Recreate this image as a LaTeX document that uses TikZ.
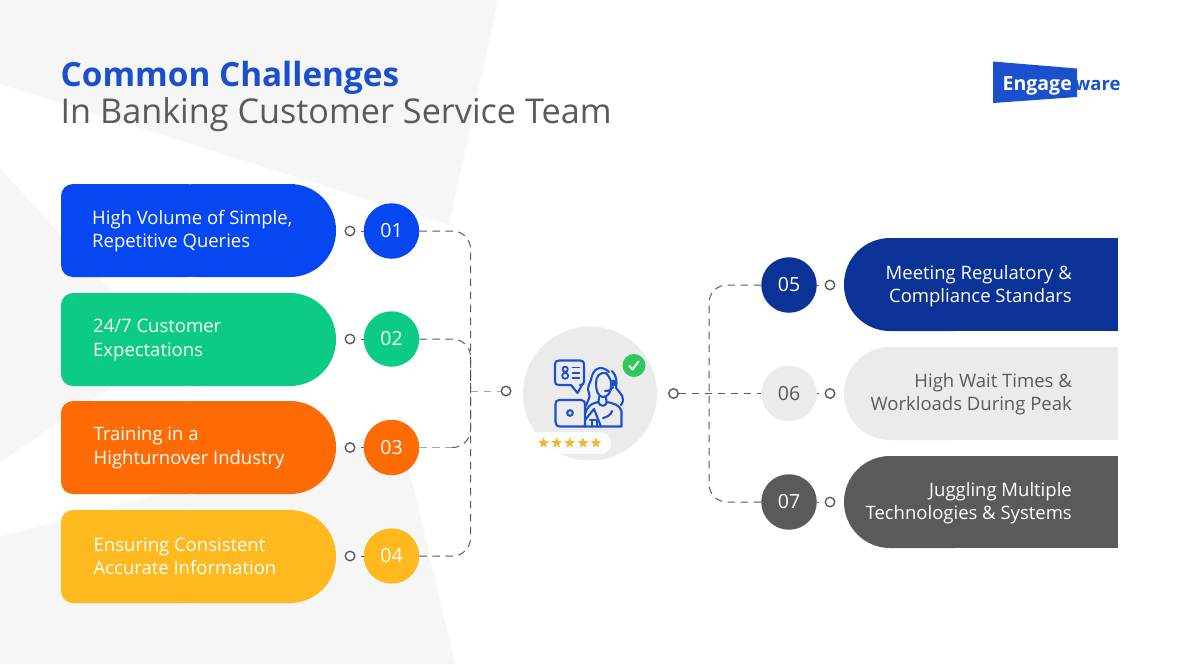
\documentclass[tikz,border=0pt]{standalone}
\usepackage{fontspec}
\setmainfont{Open Sans}
\usetikzlibrary{shapes.geometric}
\definecolor{bgshape}{HTML}{F6F6F7}
\definecolor{inkgrey}{HTML}{5A5A5A}
\definecolor{iconblue}{HTML}{1A50CE}
\definecolor{cblue}{HTML}{0647F2}
\definecolor{cgreen}{HTML}{0CCB84}
\definecolor{corange}{HTML}{FE6A04}
\definecolor{cyellow}{HTML}{FDB91E}
\definecolor{cnavy}{HTML}{0B3297}
\definecolor{clight}{HTML}{EBEBEC}
\definecolor{cdark}{HTML}{5A5A5A}
\definecolor{cstar}{HTML}{F5B731}
\definecolor{cbadge}{HTML}{2FC85C}
\tikzset{
  numdot/.style={circle,inner sep=0pt,minimum size=55.5pt,text=white,font=\fontsize{19.5}{22}\selectfont},
  portdot/.style={circle,draw=inkgrey,line width=1.4pt,fill=white,inner sep=0pt,minimum size=9.5pt},
  boxtext/.style={inner sep=0pt,font=\fontsize{18.5}{23.2}\selectfont,text=white},
  dashline/.style={draw=inkgrey,line width=1pt,dash pattern=on 7.5pt off 5.5pt},
  solidlink/.style={draw=inkgrey,line width=1pt,shorten <=6pt},
  iconline/.style={draw=iconblue,line width=2.1pt,line cap=round,line join=round},
  starmark/.style={star,star points=5,star point ratio=2.3,fill=cstar,inner sep=0pt,minimum size=11pt}
}
\newcommand{\leftbox}[3]{%
  \fill[#1,rounded corners=12pt] (61,#2) rectangle (200,#3);
  \fill[#1,rounded corners=46pt] (150,#2) rectangle (336,#3);}
\newcommand{\rightbox}[3]{%
  \fill[#1,rounded corners=46pt] (844,#2) rectangle (1000,#3);
  \fill[#1] (900,#2) rectangle (1118,#3);}
\begin{document}
\begin{tikzpicture}[x=1pt,y=-1pt]
\useasboundingbox (0,0) rectangle (1180,664);
\fill[white] (0,0) rectangle (1180,664);
% background shards
\fill[bgshape] (0,0) -- (498,0) -- (449,225) -- (0,84) -- cycle;
\fill[bgshape] (0,168) -- (166,351) -- (0,462) -- cycle;
\fill[bgshape] (0,537) -- (400,430) -- (455,664) -- (0,664) -- cycle;
% title
\node[anchor=base west,inner sep=0pt,text=iconblue,font=\fontsize{33.3}{40}\selectfont\bfseries] (title) at (60.5,86) {Common Challenges};
\node[anchor=base west,inner sep=0pt,text=inkgrey,font=\fontsize{34.2}{40}\selectfont] (subtitle) at (60.5,123.5) {In Banking Customer Service Team};
% logo
\fill[iconblue] (993,61.5) -- (1077,68.5) -- (1077,97) -- (993,103) -- cycle;
\node[anchor=base west,inner sep=0pt,text=white,font=\fontsize{19.5}{24}\selectfont\bfseries] (logoa) at (1002.5,90) {Engage};
\node[anchor=base west,inner sep=0pt,text=iconblue,font=\fontsize{18.4}{24}\selectfont\bfseries] (logob) at (1074.5,90) {ware};
% boxes
\leftbox{cblue}{184}{277}
\leftbox{cgreen}{293}{386}
\leftbox{corange}{401}{494}
\leftbox{cyellow}{510}{603}
\rightbox{cnavy}{238}{331}
\rightbox{clight}{347}{440}
\rightbox{cdark}{456}{548}
\node[boxtext,anchor=west,align=left] (t1) at (92,231) {High Volume of Simple,\\Repetitive Queries};
\node[boxtext,anchor=west,align=left] (t2) at (93,340) {24/7 Customer\\Expectations};
\node[boxtext,anchor=west,align=left] (t3) at (93.5,448) {Training in a\\Highturnover Industry};
\node[boxtext,anchor=west,align=left] (t4) at (93.5,556.5) {Ensuring Consistent\\Accurate Information};
\node[boxtext,anchor=east,align=right] (t5) at (1072,286) {Meeting Regulatory \&\\Compliance Standars};
\node[boxtext,anchor=east,align=right,text=inkgrey] (t6) at (1072,394) {High Wait Times \&\\Workloads During Peak};
\node[boxtext,anchor=east,align=right] (t7) at (1072,503) {Juggling Multiple\\Technologies \& Systems};
% coordinates
\coordinate (jl) at (470.5,391);
\coordinate (jr) at (709,393.5);
\coordinate (k3) at (452,447.5);
% port dots
\node[portdot] (p1) at (350,231) {};
\node[portdot] (p2) at (350,339) {};
\node[portdot] (p3) at (350,447.5) {};
\node[portdot] (p4) at (350,556) {};
\node[portdot] (p5) at (830,285) {};
\node[portdot] (p6) at (830,393.5) {};
\node[portdot] (p7) at (830,502) {};
\node[portdot] (pc) at (506,391) {};
\node[portdot] (pd) at (673.5,393.5) {};
% number dots
\node[numdot,fill=cblue] (c1) at (391.5,231) {01};
\node[numdot,fill=cgreen] (c2) at (391.5,339) {02};
\node[numdot,fill=corange] (c3) at (391.5,447.5) {03};
\node[numdot,fill=cyellow] (c4) at (391.5,556) {04};
\node[numdot,fill=cnavy] (c5) at (789,285) {05};
\node[numdot,fill=clight,text=inkgrey] (c6) at (789,393.5) {06};
\node[numdot,fill=cdark] (c7) at (789,502) {07};
% short links between port dots and number dots
\draw[solidlink] (p1.east) -- (c1.west);
\draw[solidlink] (p2.east) -- (c2.west);
\draw[solidlink] (p3.east) -- (c3.west);
\draw[solidlink] (p4.east) -- (c4.west);
\draw[solidlink,shorten <=0pt,shorten >=6pt] (c5.east) -- (p5.west);
\draw[solidlink,shorten <=0pt,shorten >=6pt] (c6.east) -- (p6.west);
\draw[solidlink,shorten <=0pt,shorten >=6pt] (c7.east) -- (p7.west);
% dashed connectors
\draw[dashline,rounded corners=18pt] (c1.east) -| (jl);
\draw[dashline,rounded corners=18pt] (c2.east) -| (jl);
\draw[dashline,rounded corners=18pt] (k3) -| (jl);
\draw[dashline,draw=black!35] (c3.east) -- (k3);
\draw[dashline,rounded corners=18pt] (c4.east) -| (jl);
\draw[dashline,draw=black!35] (jl) -- (pc);
\draw[dashline,rounded corners=18pt] (c5.west) -| (jr);
\draw[dashline,rounded corners=18pt] (c7.west) -| (jr);
\draw[dashline] (pd) -- (c6);
% hub
\node[circle,fill=clight,inner sep=0pt,minimum size=134pt] (hub) at (590,393.5) {};
% rating pill
\fill[white,opacity=.85,rounded corners=11pt] (529,432) rectangle (611,454);
\node[starmark] (s1) at (543.5,443) {};
\node[starmark] (s2) at (556.7,443) {};
\node[starmark] (s3) at (569.7,443) {};
\node[starmark] (s4) at (583,443) {};
\node[starmark] (s5) at (596,443) {};
% badge
\node[circle,fill=cbadge,inner sep=0pt,minimum size=23pt] (badge) at (634,365.5) {};
\draw[white,line width=2pt,line cap=round,line join=round] (629.5,366) -- (632.5,369.5) -- (638.5,361.5);
% agent icon: speech bubble
\draw[iconline] (559,360.5) -- (580,360.5) .. controls (583,360.5) and (584,362) .. (584,364) -- (584,381) .. controls (584,384) and (583,385) .. (580,385) -- (582,385) -- (577.5,393) -- (571,385) -- (559,385) .. controls (556,385) and (555,384) .. (555,381) -- (555,364) .. controls (555,362) and (556,360.5) .. (559,360.5);
\draw[iconline,line width=1.8pt] (565.2,369.2) circle (2.6pt) (565.2,375.8) circle (3pt);
\draw[iconline,line width=1.8pt] (572.5,367.5) -- (579.5,367.5) (572.5,372.7) -- (579.5,372.7) (572.5,378) -- (579.5,378);
% laptop
\draw[iconline] (559,400) -- (581,400) .. controls (584,400) and (585,402) .. (585,404) -- (585,426.5) -- (561,426.5) .. controls (557,426.5) and (555.5,425) .. (555.5,422) -- (555.5,404) .. controls (555.5,402) and (556.5,400) .. (559,400);
\draw[iconline] (570,413) circle (2.8pt);
% person: face, hair, headset, body
\draw[iconline] (596,383) .. controls (596,376) and (600,372) .. (606,373) .. controls (610,377) and (612,382) .. (611,387) .. controls (611,393) and (607,397) .. (603,397) .. controls (599,397) and (596,392) .. (596,383);
\draw[iconline] (609,372) .. controls (602,365) and (594,368) .. (592,376) .. controls (591,383) and (586,386) .. (589,393) .. controls (591,398) and (587,401) .. (586,406);
\draw[iconline] (612,371) .. controls (617,376) and (617,382) .. (616,388) .. controls (621,394) and (626,398) .. (621,405);
\draw[iconline] (605,391) .. controls (609,391) and (612,390) .. (613,387);
\fill[iconblue] (613.5,383) circle (3.4pt);
\draw[iconline] (599,397) -- (598.5,402) .. controls (594,403) and (590,404) .. (587,409) -- (585,414);
\draw[iconline] (606,397) -- (606.5,402) .. controls (613,403) and (620,405) .. (621.5,411) -- (621.5,426.5) -- (585,426.5);
\draw[iconline] (598,402) .. controls (600,407) and (606,407) .. (607,402);
\draw[iconline] (585,420) -- (594,409) -- (601,426.5);
\draw[iconline] (603,418) .. controls (607,417) and (611,415) .. (612,411);
\draw[iconline] (590,420) -- (596,420) (592,426.5) -- (592,421) (597,426.5) -- (597,421);
\end{tikzpicture}
\end{document}
